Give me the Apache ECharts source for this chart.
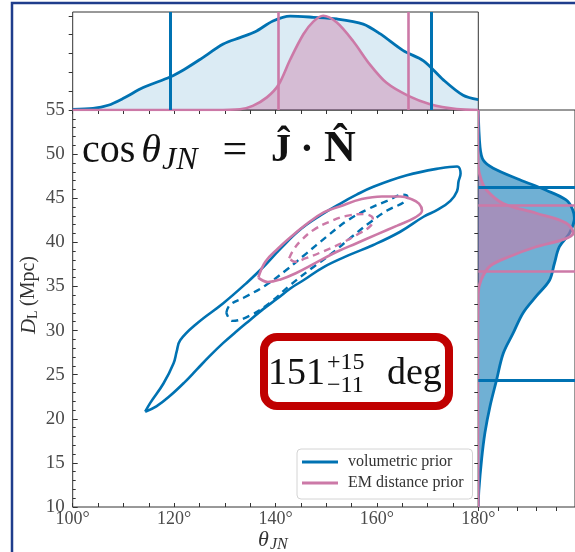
<!DOCTYPE html>
<html><head><meta charset="utf-8">
<script src="https://cdn.jsdelivr.net/npm/echarts@6/dist/echarts.min.js"></script>
<style>html,body{margin:0;padding:0;background:#fff}#c{width:575px;height:552px}</style>
</head><body><div id="c"></div>
<script>
// ---------- data ----------
const thetaTicks = [100, 120, 140, 160, 180];
const distTicks = [10, 15, 20, 25, 30, 35, 40, 45, 50, 55];

// marginal density of theta_JN (theta deg, density)
const blueTopDensity = [[100,0.03],[104,0.08],[107,0.25],[110,0.62],[113.9,1.19],[119.2,1.75],[122,2.15],[125.1,2.68],[129.7,3.5],[133,3.84],[136,4.15],[139.5,4.72],[142.9,4.98],[147.5,4.92],[152.1,4.83],[157.3,4.56],[160.6,4.05],[165.2,3.15],[169.2,2.61],[173.1,1.6],[177,0.78],[180,0.55]];
const pinkTopDensity = [[100,0],[128,0],[133,0.04],[135.5,0.22],[138.3,0.67],[140.6,1.34],[142.9,2.68],[145.5,4.02],[147.5,4.7],[149.4,5.0],[152.1,4.64],[155.3,3.66],[158.6,2.42],[161.9,1.44],[166.2,0.75],[170.5,0.31],[175.7,0.05],[180,0]];

// marginal density of D_L (Mpc, density)
const blueRightDensity = [[55,0],[50.8,0.09],[49.3,0.26],[48.4,0.77],[47.1,2.13],[45.9,3.49],[44.8,4.51],[43.7,4.85],[42.5,4.93],[41.0,4.68],[39.5,4.17],[37.6,3.91],[35.7,3.66],[33.9,2.98],[32.0,2.30],[29.7,1.79],[27.4,1.28],[24.4,0.94],[21.4,0.60],[18.4,0.34],[15.4,0.17],[11.9,0.03],[10,0]];
const pinkRightDensity = [[55,0],[48.6,0],[47.1,0.15],[45.9,0.43],[44.4,1.28],[43.3,2.98],[42.2,4.51],[41.0,4.88],[40.3,4.34],[39.5,2.98],[38.4,1.62],[37.3,0.60],[35.7,0.14],[34.2,0],[10,0]];

// credible interval lines
const blueThetaCI = [119.2, 170.8];
const pinkThetaCI = [140.5, 166.2];
const blueDistCI = [46.2, 24.4];
const pinkDistCI = [44.2, 36.75];

// 2D contours (theta deg, D_L Mpc)
const blueOuter = [[114.3,20.8],[116.5,21.4],[119.2,22.6],[122,24.1],[124.5,25.6],[127,27.1],[129.7,28.6],[132.5,30.0],[135,31.2],[137.5,32.4],[140.3,33.6],[143,34.8],[145.5,35.7],[149.5,37.2],[154.7,38.6],[159.3,39.7],[164.6,41.2],[169.2,42.9],[172,43.7],[174.5,44.7],[175.8,45.8],[176.1,46.9],[176.5,47.8],[175.8,48.6],[172.5,48.4],[165.9,47.6],[159.3,46.3],[156,45.4],[152.8,44.4],[149,43.1],[145,41.5],[141,39.3],[137.6,37.2],[134.3,35.4],[129.7,33.1],[124.5,30.8],[121.2,28.9],[120.5,27.6],[119.9,26.3],[117.9,24.0],[115.3,21.8],[114.3,20.8]];
const blueInner = [[130.3,32.0],[131,32.9],[134,33.8],[138,35.1],[142,36.8],[146,38.7],[150,40.6],[154,42.4],[158,43.7],[162,44.7],[165.2,45.4],[166,45.2],[165.5,44.6],[162,43.6],[158.5,42.2],[155,40.6],[151,38.7],[147,37.0],[143,35.2],[139,33.2],[135,31.7],[131.5,31.1],[130.3,32.0]];
const pinkOuter = [[136.6,36.0],[138.5,35.5],[141,35.8],[144,36.5],[148,37.7],[152,38.9],[156,39.9],[160,40.9],[164,41.9],[167.5,42.8],[168.9,43.6],[168.3,44.4],[166.8,44.9],[164.6,45.2],[161,45.2],[157,44.9],[152.8,44.1],[149.5,43.4],[146.2,42.1],[143,40.6],[140.5,39.3],[138,37.8],[136.6,36.0]];
const pinkInner = [[142.7,38.2],[143.6,39.2],[145.2,40.3],[147.5,41.4],[150.5,42.3],[154,43.0],[157.5,43.2],[159.2,42.7],[158.8,41.9],[156.5,41.0],[153,39.9],[149.5,39.0],[146,38.2],[143.8,37.8],[142.7,38.2]];

// ---------- styling ----------
const FONT = '"Liberation Serif", "DejaVu Serif", serif';
const BLUE = '#0072B2';
const PINK = '#CC79A7';
const AX = '#333';
const LBL = '#4a4a4a';

function densityRenderer(pts, fill, stroke) {
  return function (params, api) {
    const coords = pts.map(p => api.coord([p[1], p[0]]));
    return {
      type: 'group',
      children: [
        { type: 'polygon', shape: { points: coords, smooth: 0.35 }, style: { fill: fill } },
        { type: 'polyline', shape: { points: coords, smooth: 0.35 }, style: { fill: 'none', stroke: stroke, lineWidth: 2.8 } }
      ]
    };
  };
}

const chart = echarts.init(document.getElementById('c'), null, { renderer: 'canvas' });

const hidden = { show: false };
const option = {
  animation: false,
  backgroundColor: '#fff',
  textStyle: { fontFamily: FONT },
  grid: [
    { left: 72.7, top: 110, width: 405.6, height: 397, show: true, borderColor: AX, borderWidth: 1, backgroundColor: 'transparent' },
    { left: 72.7, top: 12, width: 405.6, height: 98, show: true, borderColor: AX, borderWidth: 1, backgroundColor: 'transparent' },
    { left: 478.3, top: 110, width: 97.5, height: 397, show: true, borderColor: AX, borderWidth: 1, backgroundColor: 'transparent' }
  ],
  xAxis: [
    { gridIndex: 0, type: 'value', min: 100, max: 180, interval: 20,
      axisLine: hidden, splitLine: hidden,
      axisTick: { inside: true, length: 4, lineStyle: { color: AX } },
      minorTick: { show: true, splitNumber: 4, length: 4, lineStyle: { color: AX } },
      axisLabel: { formatter: v => v + '°', fontFamily: FONT, fontSize: 18, color: LBL, margin: 3 } },
    { gridIndex: 1, type: 'value', min: 100, max: 180, interval: 5,
      axisLine: hidden, splitLine: hidden, axisLabel: hidden,
      axisTick: { inside: false, length: 4, lineStyle: { color: AX } } },
    { gridIndex: 2, type: 'value', min: 0, max: 4.97, interval: 1,
      axisLine: hidden, splitLine: hidden, axisLabel: hidden,
      axisTick: { inside: false, length: 4, customValues: [0, 1, 2, 3, 4], lineStyle: { color: AX } } }
  ],
  yAxis: [
    { gridIndex: 0, type: 'value', min: 10, max: 55, interval: 5,
      axisLine: hidden, splitLine: hidden,
      axisTick: { inside: true, length: 5, lineStyle: { color: AX } },
      minorTick: { show: true, splitNumber: 5, length: 3, lineStyle: { color: AX } },
      axisLabel: { fontFamily: FONT, fontSize: 19, color: LBL, margin: 8 } },
    { gridIndex: 1, type: 'value', min: 0, max: 5.2,
      axisLine: hidden, splitLine: hidden, axisLabel: hidden,
      axisTick: { inside: false, length: 4, customValues: [0, 1, 2, 3, 4, 5], lineStyle: { color: AX } } },
    { gridIndex: 2, type: 'value', min: 10, max: 55,
      axisLine: hidden, splitLine: hidden, axisLabel: hidden,
      axisTick: { inside: false, length: 4, customValues: [11,13,15,17,19,21,23,25,27,29,31,33,35,37,39,41,43,45,47,49,51,53], lineStyle: { color: AX } } }
  ],
  legend: {
    data: [{ name: 'volumetric prior' }, { name: 'EM distance prior' }],
    left: 297, top: 449, orient: 'vertical', icon: 'rect',
    itemWidth: 36, itemHeight: 3, itemGap: 5, padding: [5, 9, 8, 5],
    backgroundColor: 'rgba(255,255,255,0.85)', borderColor: '#d4d4d4', borderWidth: 1, borderRadius: 4,
    selectedMode: false,
    textStyle: { fontFamily: FONT, fontSize: 16, color: '#333', padding: [0, 0, 0, 5] }
  },
  series: [
    // top marginal
    { type: 'line', xAxisIndex: 1, yAxisIndex: 1, data: blueTopDensity, smooth: 0.3, showSymbol: false, silent: true,
      lineStyle: { color: BLUE, width: 2.8 }, itemStyle: { color: BLUE }, areaStyle: { color: 'rgba(0,114,178,0.2)' } },
    { type: 'line', xAxisIndex: 1, yAxisIndex: 1, data: pinkTopDensity, smooth: 0.3, showSymbol: false, silent: true,
      lineStyle: { color: PINK, width: 2.6 }, itemStyle: { color: PINK }, areaStyle: { color: 'rgba(204,121,167,0.58)' } },
    { type: 'line', xAxisIndex: 1, yAxisIndex: 1, data: [], silent: true,
      markLine: { symbol: ['none', 'none'], silent: true, label: hidden, lineStyle: { color: PINK, width: 2.6, type: 'solid' },
        data: pinkThetaCI.map(v => ({ xAxis: v })) } },
    { type: 'line', xAxisIndex: 1, yAxisIndex: 1, data: [], silent: true,
      markLine: { symbol: ['none', 'none'], silent: true, label: hidden, lineStyle: { color: BLUE, width: 3, type: 'solid' },
        data: blueThetaCI.map(v => ({ xAxis: v })) } },
    // right marginal
    { type: 'custom', xAxisIndex: 2, yAxisIndex: 2, data: [[0, 10]], clip: true, silent: true,
      renderItem: densityRenderer(blueRightDensity, 'rgba(0,114,178,0.56)', BLUE) },
    { type: 'custom', xAxisIndex: 2, yAxisIndex: 2, data: [[0, 10]], clip: true, silent: true,
      renderItem: densityRenderer(pinkRightDensity, 'rgba(204,121,167,0.55)', PINK) },
    { type: 'line', xAxisIndex: 2, yAxisIndex: 2, data: [], silent: true,
      markLine: { symbol: ['none', 'none'], silent: true, label: hidden, lineStyle: { color: BLUE, width: 3, type: 'solid' },
        data: blueDistCI.map(v => ({ yAxis: v })) } },
    { type: 'line', xAxisIndex: 2, yAxisIndex: 2, data: [], silent: true,
      markLine: { symbol: ['none', 'none'], silent: true, label: hidden, lineStyle: { color: PINK, width: 2.6, type: 'solid' },
        data: pinkDistCI.map(v => ({ yAxis: v })) } },
    // main contours
    { name: 'volumetric prior', type: 'line', xAxisIndex: 0, yAxisIndex: 0, data: blueOuter, smooth: 0.4, showSymbol: false, silent: true, clip: true,
      lineStyle: { color: BLUE, width: 2.6 }, itemStyle: { color: BLUE } },
    { name: 'volumetric prior 50%', type: 'line', xAxisIndex: 0, yAxisIndex: 0, data: blueInner, smooth: 0.4, showSymbol: false, silent: true,
      lineStyle: { color: BLUE, width: 2.4, type: [7, 5] }, itemStyle: { color: BLUE } },
    { name: 'EM distance prior', type: 'line', xAxisIndex: 0, yAxisIndex: 0, data: pinkOuter, smooth: 0.4, showSymbol: false, silent: true,
      lineStyle: { color: PINK, width: 2.6 }, itemStyle: { color: PINK } },
    { name: 'EM distance prior 50%', type: 'line', xAxisIndex: 0, yAxisIndex: 0, data: pinkInner, smooth: 0.4, showSymbol: false, silent: true,
      lineStyle: { color: PINK, width: 2.4, type: [7, 5] }, itemStyle: { color: PINK } }
  ],
  graphic: [
    { type: 'rect', silent: true, z: 100, shape: { x: 12, y: 3, width: 700, height: 700 }, style: { fill: 'none', stroke: '#1f3d8c', lineWidth: 2.5 } },
    // formula
    { type: 'text', z: 100, x: 82, y: 151, style: { text: 'cos', font: '40px ' + FONT, fill: '#111', textAlign: 'left', textVerticalAlign: 'middle' } },
    { type: 'text', z: 100, x: 151, y: 151, style: { text: 'θ', font: 'italic 40px ' + FONT, fill: '#111', textAlign: 'center', textVerticalAlign: 'middle' } },
    { type: 'text', z: 100, x: 162, y: 161, style: { text: 'JN', font: 'italic 32px ' + FONT, fill: '#111', textAlign: 'left', textVerticalAlign: 'middle' } },
    { type: 'text', z: 100, x: 235, y: 151, style: { text: '=', font: '44px ' + FONT, fill: '#111', textAlign: 'center', textVerticalAlign: 'middle' } },
    { type: 'text', z: 100, x: 281, y: 151, style: { text: 'Ĵ', font: 'bold 40px ' + FONT, fill: '#111', textAlign: 'center', textVerticalAlign: 'middle' } },
    { type: 'text', z: 100, x: 307, y: 151, style: { text: '·', font: 'bold 40px ' + FONT, fill: '#111', textAlign: 'center', textVerticalAlign: 'middle' } },
    { type: 'text', z: 100, x: 340, y: 150, style: { text: 'N̂', font: 'bold 44px ' + FONT, fill: '#111', textAlign: 'center', textVerticalAlign: 'middle' } },
    // red box
    { type: 'rect', z: 100, shape: { x: 264, y: 337, width: 185, height: 69, r: 13 }, style: { fill: '#fff', stroke: '#c00000', lineWidth: 8 } },
    { type: 'text', z: 101, x: 268, y: 374, style: { text: '151', font: '38px ' + FONT, fill: '#111', textAlign: 'left', textVerticalAlign: 'middle' } },
    { type: 'text', z: 101, x: 327, y: 363, style: { text: '+15', font: '24px ' + FONT, fill: '#111', textAlign: 'left', textVerticalAlign: 'middle' } },
    { type: 'text', z: 101, x: 327, y: 386, style: { text: '−11', font: '24px ' + FONT, fill: '#111', textAlign: 'left', textVerticalAlign: 'middle' } },
    { type: 'text', z: 101, x: 387, y: 374, style: { text: 'deg', font: '38px ' + FONT, fill: '#111', textAlign: 'left', textVerticalAlign: 'middle' } },
    // axis titles
    { type: 'text', z: 100, x: 258, y: 540, style: { text: 'θ', font: 'italic 22px ' + FONT, fill: '#333', textAlign: 'left', textVerticalAlign: 'middle' } },
    { type: 'text', z: 100, x: 270, y: 545, style: { text: 'JN', font: 'italic 16px ' + FONT, fill: '#333', textAlign: 'left', textVerticalAlign: 'middle' } },
    { type: 'group', z: 100, x: 29, y: 334, rotation: Math.PI / 2, children: [
      { type: 'text', x: 0, y: 0, style: { text: 'D', font: 'italic 21px ' + FONT, fill: '#333', textAlign: 'left', textVerticalAlign: 'middle' } },
      { type: 'text', x: 15, y: 4, style: { text: 'L', font: '14px ' + FONT, fill: '#333', textAlign: 'left', textVerticalAlign: 'middle' } },
      { type: 'text', x: 28, y: 0, style: { text: '(Mpc)', font: '20px ' + FONT, fill: '#333', textAlign: 'left', textVerticalAlign: 'middle' } }
    ] }
  ]
};
chart.setOption(option);
</script>
</body></html>
